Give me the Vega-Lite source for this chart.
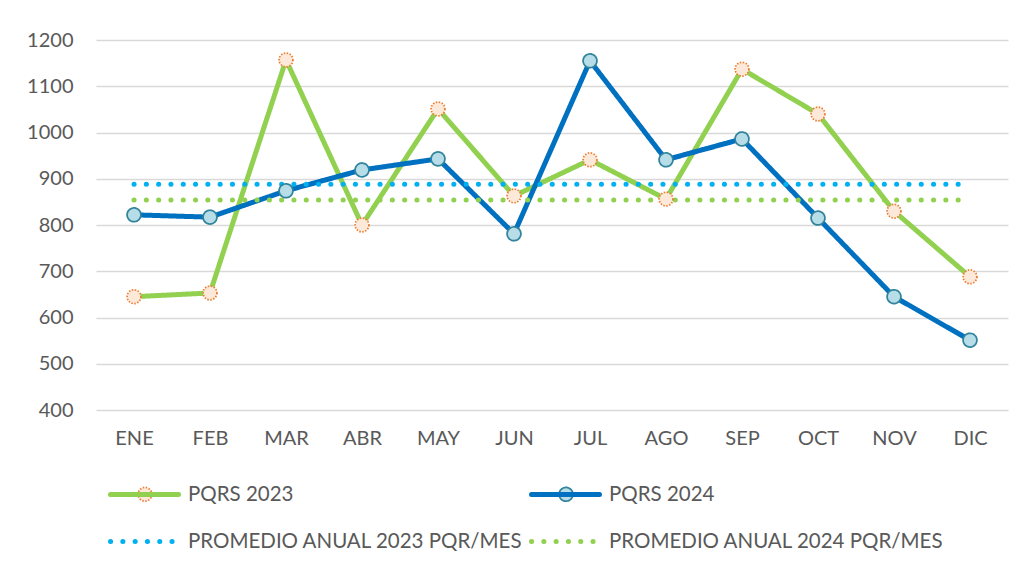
{
  "$schema": "https://vega.github.io/schema/vega-lite/v6.json",
  "width": 912,
  "height": 370,
  "autosize": {"type": "none"},
  "padding": {"left": 96, "top": 40, "right": 16, "bottom": 159},
  "background": "white",
  "config": {
    "view": {"stroke": null},
    "font": "Lato",
    "axis": {"labelFont": "Lato", "labelFontSize": 20, "labelColor": "#595959", "title": null}
  },
  "data": {
    "values": [
      {"mes": "ENE", "serie": "PQRS 2023", "valor": 645},
      {"mes": "FEB", "serie": "PQRS 2023", "valor": 653},
      {"mes": "MAR", "serie": "PQRS 2023", "valor": 1157},
      {"mes": "ABR", "serie": "PQRS 2023", "valor": 800},
      {"mes": "MAY", "serie": "PQRS 2023", "valor": 1051},
      {"mes": "JUN", "serie": "PQRS 2023", "valor": 863},
      {"mes": "JUL", "serie": "PQRS 2023", "valor": 941},
      {"mes": "AGO", "serie": "PQRS 2023", "valor": 856},
      {"mes": "SEP", "serie": "PQRS 2023", "valor": 1137},
      {"mes": "OCT", "serie": "PQRS 2023", "valor": 1040},
      {"mes": "NOV", "serie": "PQRS 2023", "valor": 830},
      {"mes": "DIC", "serie": "PQRS 2023", "valor": 688},
      {"mes": "ENE", "serie": "PQRS 2024", "valor": 822},
      {"mes": "FEB", "serie": "PQRS 2024", "valor": 817},
      {"mes": "MAR", "serie": "PQRS 2024", "valor": 874},
      {"mes": "ABR", "serie": "PQRS 2024", "valor": 919},
      {"mes": "MAY", "serie": "PQRS 2024", "valor": 943},
      {"mes": "JUN", "serie": "PQRS 2024", "valor": 781},
      {"mes": "JUL", "serie": "PQRS 2024", "valor": 1155},
      {"mes": "AGO", "serie": "PQRS 2024", "valor": 941},
      {"mes": "SEP", "serie": "PQRS 2024", "valor": 986},
      {"mes": "OCT", "serie": "PQRS 2024", "valor": 815},
      {"mes": "NOV", "serie": "PQRS 2024", "valor": 645},
      {"mes": "DIC", "serie": "PQRS 2024", "valor": 551},
      {"mes": "ENE", "serie": "PROMEDIO ANUAL 2023 PQR/MES", "valor": 888},
      {"mes": "FEB", "serie": "PROMEDIO ANUAL 2023 PQR/MES", "valor": 888},
      {"mes": "MAR", "serie": "PROMEDIO ANUAL 2023 PQR/MES", "valor": 888},
      {"mes": "ABR", "serie": "PROMEDIO ANUAL 2023 PQR/MES", "valor": 888},
      {"mes": "MAY", "serie": "PROMEDIO ANUAL 2023 PQR/MES", "valor": 888},
      {"mes": "JUN", "serie": "PROMEDIO ANUAL 2023 PQR/MES", "valor": 888},
      {"mes": "JUL", "serie": "PROMEDIO ANUAL 2023 PQR/MES", "valor": 888},
      {"mes": "AGO", "serie": "PROMEDIO ANUAL 2023 PQR/MES", "valor": 888},
      {"mes": "SEP", "serie": "PROMEDIO ANUAL 2023 PQR/MES", "valor": 888},
      {"mes": "OCT", "serie": "PROMEDIO ANUAL 2023 PQR/MES", "valor": 888},
      {"mes": "NOV", "serie": "PROMEDIO ANUAL 2023 PQR/MES", "valor": 888},
      {"mes": "DIC", "serie": "PROMEDIO ANUAL 2023 PQR/MES", "valor": 888},
      {"mes": "ENE", "serie": "PROMEDIO ANUAL 2024 PQR/MES", "valor": 854},
      {"mes": "FEB", "serie": "PROMEDIO ANUAL 2024 PQR/MES", "valor": 854},
      {"mes": "MAR", "serie": "PROMEDIO ANUAL 2024 PQR/MES", "valor": 854},
      {"mes": "ABR", "serie": "PROMEDIO ANUAL 2024 PQR/MES", "valor": 854},
      {"mes": "MAY", "serie": "PROMEDIO ANUAL 2024 PQR/MES", "valor": 854},
      {"mes": "JUN", "serie": "PROMEDIO ANUAL 2024 PQR/MES", "valor": 854},
      {"mes": "JUL", "serie": "PROMEDIO ANUAL 2024 PQR/MES", "valor": 854},
      {"mes": "AGO", "serie": "PROMEDIO ANUAL 2024 PQR/MES", "valor": 854},
      {"mes": "SEP", "serie": "PROMEDIO ANUAL 2024 PQR/MES", "valor": 854},
      {"mes": "OCT", "serie": "PROMEDIO ANUAL 2024 PQR/MES", "valor": 854},
      {"mes": "NOV", "serie": "PROMEDIO ANUAL 2024 PQR/MES", "valor": 854},
      {"mes": "DIC", "serie": "PROMEDIO ANUAL 2024 PQR/MES", "valor": 854}
    ]
  },
  "encoding": {
    "x": {
      "field": "mes",
      "type": "nominal",
      "sort": ["ENE", "FEB", "MAR", "ABR", "MAY", "JUN", "JUL", "AGO", "SEP", "OCT", "NOV", "DIC"],
      "scale": {"type": "point", "padding": 0.5},
      "axis": {"domain": false, "ticks": false, "grid": false, "labelAngle": 0, "labelPadding": 18}
    },
    "y": {
      "field": "valor",
      "type": "quantitative",
      "scale": {"domain": [400, 1200], "nice": false, "zero": false},
      "axis": {
        "domain": false, "ticks": false, "labelPadding": 23, "format": "d",
        "values": [400, 500, 600, 700, 800, 900, 1000, 1100, 1200],
        "gridColor": "#d9d9d9", "gridWidth": 1.5
      }
    }
  },
  "resolve": {"scale": {"stroke": "independent", "strokeDash": "independent"}},
  "layer": [
    {
      "mark": {"type": "line", "strokeWidth": 5, "strokeCap": "round", "strokeJoin": "round"},
      "encoding": {
        "stroke": {
          "field": "serie",
          "type": "nominal",
          "scale": {
            "domain": ["PQRS 2023", "PQRS 2024", "PROMEDIO ANUAL 2023 PQR/MES", "PROMEDIO ANUAL 2024 PQR/MES"],
            "range": ["#92d050", "#0070c0", "#00b0f0", "#92d050"]
          },
          "legend": {
            "title": null, "orient": "none", "legendX": 12, "legendY": 418, "columns": 2, "direction": "horizontal",
            "symbolType": "stroke", "symbolSize": 4624, "symbolStrokeWidth": 5,
            "labelFont": "Lato", "labelFontSize": 20.5, "labelColor": "#595959", "labelOffset": 7,
            "labelLimit": 600, "columnPadding": -2, "rowPadding": -21,
            "encode": {"symbols": {"update": {"strokeCap": {"value": "round"}}}}
          }
        },
        "strokeDash": {
          "field": "serie",
          "type": "nominal",
          "scale": {
            "domain": ["PQRS 2023", "PQRS 2024", "PROMEDIO ANUAL 2023 PQR/MES", "PROMEDIO ANUAL 2024 PQR/MES"],
            "range": [[1, 0], [1, 0], [0.1, 12.2], [0.1, 12.2]]
          },
          "legend": {
            "title": null, "orient": "none", "legendX": 12, "legendY": 418, "columns": 2, "direction": "horizontal",
            "symbolType": "stroke", "symbolSize": 4624, "symbolStrokeWidth": 5,
            "labelFont": "Lato", "labelFontSize": 20.5, "labelColor": "#595959", "labelOffset": 7,
            "labelLimit": 600, "columnPadding": -2, "rowPadding": -21,
            "encode": {"symbols": {"update": {"strokeCap": {"value": "round"}}}}
          }
        }
      }
    },
    {
      "transform": [{"filter": "datum.serie === 'PQRS 2023' || datum.serie === 'PQRS 2024'"}],
      "mark": {"type": "circle", "size": 190, "opacity": 1, "strokeWidth": 1.75},
      "encoding": {
        "fill": {
          "field": "serie",
          "type": "nominal",
          "scale": {"domain": ["PQRS 2023", "PQRS 2024"], "range": ["#fde9d9", "#b7dde8"]},
          "legend": {
            "title": null, "orient": "none", "legendX": 41, "legendY": 446, "columns": 2, "direction": "horizontal",
            "symbolType": "circle", "symbolSize": 190, "symbolOpacity": 1, "symbolStrokeWidth": 1.75,
            "labelExpr": "''", "labelOffset": 0, "columnPadding": 399,
            "encode": {"symbols": {"update": {
              "stroke": {"signal": "datum.value === 'PQRS 2023' ? '#ed7d31' : '#31849b'"},
              "strokeDash": {"signal": "datum.value === 'PQRS 2023' ? [1.5, 1.5] : [1, 0]"}
            }}}
          }
        },
        "stroke": {
          "field": "serie",
          "type": "nominal",
          "scale": {"domain": ["PQRS 2023", "PQRS 2024"], "range": ["#ed7d31", "#31849b"]},
          "legend": null
        },
        "strokeDash": {
          "field": "serie",
          "type": "nominal",
          "scale": {"domain": ["PQRS 2023", "PQRS 2024"], "range": [[1.5, 1.5], [1, 0]]},
          "legend": null
        }
      }
    }
  ]
}
